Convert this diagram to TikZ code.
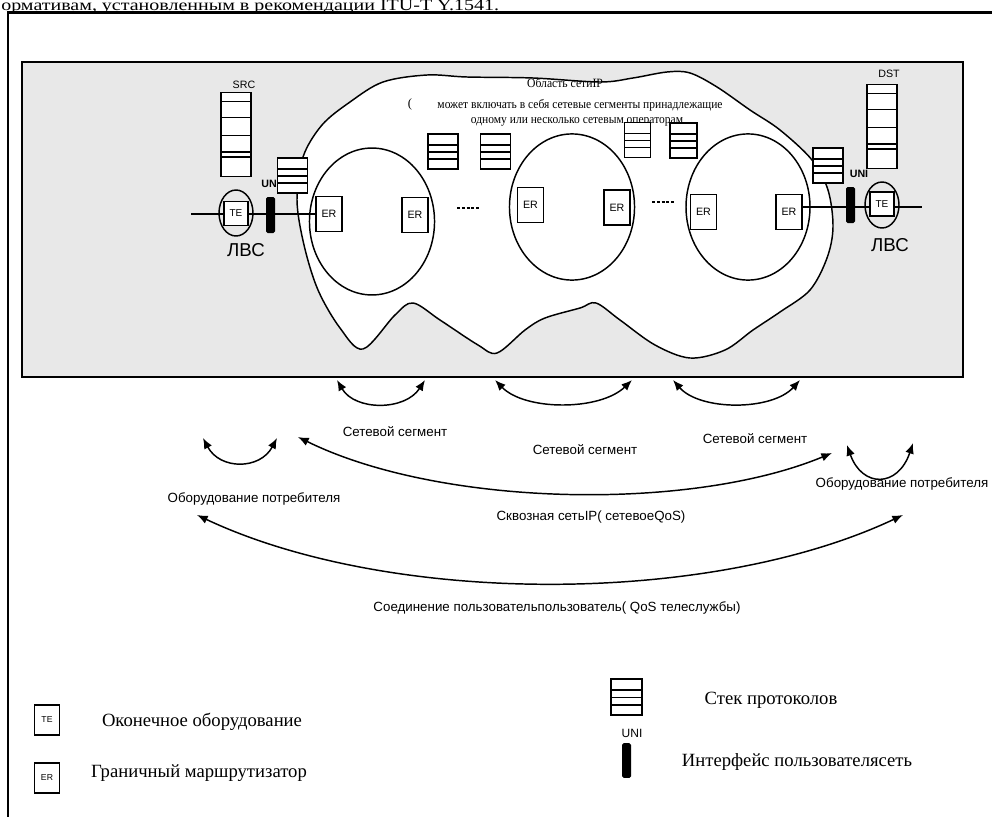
\documentclass[tikz,border=0pt]{standalone}
\usepackage{fontspec}
\setmainfont{Liberation Serif}
\newfontfamily\arial{Liberation Sans}
\usetikzlibrary{arrows.meta,calc,shapes.geometric}
\definecolor{boxgray}{HTML}{E8E8E8}
\tikzset{
  ln/.style={line width=1.1pt},
  stacklines/.style={path picture={\foreach \f in {#1}{\draw[line width=1.1pt] ($(path picture bounding box.south west)!\f!(path picture bounding box.north west)$) -- ($(path picture bounding box.south east)!\f!(path picture bounding box.north east)$);}}},
  stackbox/.style={draw, fill=white, line width=1.1pt, inner sep=0pt, minimum width=22.5pt, minimum height=26.25pt, stacklines={0.28,0.48,0.69}},
  tallstack/.style={draw, fill=white, line width=1.1pt, inner sep=0pt, minimum width=22.5pt, minimum height=63pt, stacklines={0.23,0.29,0.49,0.70,0.89}},
  erbox/.style={draw, fill=white, line width=1.1pt, inner sep=0pt, minimum width=19.5pt, minimum height=26.25pt, font=\arial\fontsize{8}{9}\selectfont},
  tebox/.style={draw, fill=white, line width=1.1pt, inner sep=0pt, minimum width=18pt, minimum height=18pt, font=\arial\fontsize{7.5}{9}\selectfont},
  lanell/.style={draw, ellipse, line width=1.1pt, inner sep=0pt, minimum width=25.5pt, minimum height=34.5pt},
  unibar/.style={fill=black, rounded corners=1.2pt, inner sep=0pt, minimum width=6.75pt, minimum height=27pt},
  dbl/.style={{Latex[length=8pt,width=6.5pt]}-{Latex[length=8pt,width=6.5pt]}, line width=1.1pt},
  sanslbl/.style={font=\arial\fontsize{10}{12}\selectfont, inner sep=0pt},
  seriflbl/.style={font=\fontsize{9.5}{11}\selectfont, inner sep=0pt},
  legtxt/.style={font=\fontsize{14}{16}\selectfont, inner sep=0pt},
  dotsline/.style={line width=1.8pt, dash pattern=on 2.2pt off 1.4pt}
}
\begin{document}
\begin{tikzpicture}[x=0.75pt,y=-0.75pt]
\useasboundingbox (0,0) rectangle (992,817);
\clip (0,0) rectangle (992,817);
% top text and frame
\node[anchor=base west, inner sep=0pt, font=\fontsize{12}{14}\selectfont] (toptext) at (1,11) {\scalebox{1.25}[1]{ормативам, установленным в рекомендации ITU-T Y.1541.}};
\draw[line width=2.2pt] (8,830) -- (8,12.5) -- (1000,12.5);
% gray box
\draw[fill=boxgray, line width=1.8pt] (22,62) rectangle (963,377);
% IP cloud
\draw[fill=white, ln] plot[smooth cycle, tension=0.55] coordinates {
 (303,157) (322,125) (350,102) (383,82) (427,75) (467,77) (533,78) (600,82) (633,78) (667,72) (690,73)
 (717,87) (750,110) (780,130) (812,160) (828,190) (833,227) (827,258) (810,290) (780,312) (753,330)
 (725,350) (690,358) (655,345) (620,320) (596,303) (580,308) (545,318) (525,330) (497,353) (478,345)
 (440,320) (413,303) (395,315) (363,349) (340,328) (318,290) (304,245) (297,200)};
% segment ellipses
\draw[ln] (372,221.5) ellipse [x radius=46.9pt, y radius=55.1pt];
\draw[ln] (572,207) ellipse [x radius=46.9pt, y radius=54.8pt];
\draw[ln] (748,207) ellipse [x radius=46.5pt, y radius=54.8pt];
% cloud text
\node[seriflbl] (ipt1) at (565,83) {\scalebox{0.92}[1]{Область сетиIP}};
\node[seriflbl] (ipt0) at (410,104) {(};
\node[seriflbl] (ipt2) at (580,105) {\scalebox{0.91}[1]{может включать в себя сетевые сегменты принадлежащие}};
\node[seriflbl] (ipt3) at (577,122) {\scalebox{0.91}[1]{одному или несколько сетевым операторам}};
% stacks
\node[tallstack] (src) at (236,134.5) {};
\node[tallstack] (dst) at (882,126.5) {};
\node[inner sep=0pt, font=\arial\fontsize{8}{9}\selectfont] (srcl) at (244,85) {SRC};
\node[inner sep=0pt, font=\arial\fontsize{8}{9}\selectfont] (dstl) at (889,74) {DST};
\node[inner sep=0pt, font=\arial\bfseries\fontsize{8}{9}\selectfont] (unl) at (269,184) {UN};
\node[inner sep=0pt, font=\arial\bfseries\fontsize{8}{9}\selectfont] (unr) at (859,174) {UNI};
\node[stackbox] (stL) at (292.5,175.5) {};
\node[stackbox] (stR) at (828,165.5) {};
\node[stackbox] (stA) at (443,151.5) {};
\node[stackbox] (stB) at (495.5,151.5) {};
\node[stackbox, minimum width=19.5pt] (stC) at (637.5,140) {};
\node[stackbox, minimum width=20pt] (stD) at (683.5,140.5) {};
% ER routers
\node[erbox] (er1) at (329,214) {ER};
\node[erbox] (er2) at (415,215) {ER};
\node[erbox] (er3) at (530.5,205) {ER};
\node[erbox] (er4) at (617,207.5) {ER};
\node[erbox] (er5) at (703.5,212) {ER};
\node[erbox] (er6) at (789,212) {ER};
\coordinate (d1a) at (457,208); \coordinate (d1b) at (479,208);
\coordinate (d2a) at (652,202); \coordinate (d2b) at (674,202);
\draw[dotsline] (d1a) -- (d1b);
\draw[dotsline] (d2a) -- (d2b);
% left LAN
\coordinate (lEnd) at (191,214);
\draw[ln] (lEnd) -- (er1.west);
\node[lanell] (lanL) at (236,213) {};
\node[tebox] (teL) at (236,213.5) {TE};
\node[unibar] (uniL) at (270.5,215) {};
\node[inner sep=0pt, font=\arial\fontsize{14}{16}\selectfont] (lvsL) at (246,250) {ЛВС};
% right LAN
\coordinate (rEnd) at (922,207);
\draw[ln] (er6.east |- rEnd) -- (rEnd);
\node[lanell] (lanR) at (882,205) {};
\node[tebox] (teR) at (882,204) {TE};
\node[unibar] (uniR) at (850.5,205) {};
\node[inner sep=0pt, font=\arial\fontsize{14}{16}\selectfont] (lvsR) at (890,245) {ЛВС};
% segment arrows
\coordinate (a1s) at (337,380); \coordinate (a1e) at (425,380);
\coordinate (a2s) at (495,380); \coordinate (a2e) at (632,380);
\coordinate (a3s) at (673,380); \coordinate (a3e) at (800,380);
\draw[dbl] (a1s) .. controls (355,411) and (405,411) .. (a1e);
\draw[dbl] (a2s) .. controls (525,411) and (600,411) .. (a2e);
\draw[dbl] (a3s) .. controls (700,411) and (772,411) .. (a3e);
% customer arcs
\coordinate (c1s) at (203,438); \coordinate (c1e) at (277,438);
\coordinate (c2s) at (847,445); \coordinate (c2e) at (913,443);
\draw[dbl] (c1s) .. controls (220,470) and (260,470) .. (c1e);
\draw[dbl] (c2s) .. controls (862,488) and (898,488) .. (c2e);
% long arrows
\coordinate (l1s) at (298,437); \coordinate (l1e) at (832,453);
\draw[dbl] (l1s) .. controls (440,507) and (690,512) .. (l1e);
\coordinate (l2s) at (197,515); \coordinate (l2e) at (903,515);
\draw[dbl] (l2s) .. controls (390,606) and (710,606) .. (l2e);
% labels
\node[sanslbl] (seg1) at (395,432) {Сетевой сегмент};
\node[sanslbl] (seg2) at (585,450) {Сетевой сегмент};
\node[sanslbl] (seg3) at (755,439) {Сетевой сегмент};
\node[sanslbl] (cpeL) at (254,499) {Оборудование потребителя};
\node[sanslbl] (cpeR) at (902,484) {Оборудование потребителя};
\node[sanslbl] (e2e) at (591,517) {Сквозная сетьIP( сетевоеQoS)};
\node[sanslbl] (u2u) at (557,608) {Соединение пользовательпользователь( QoS телеслужбы)};
% legend
\node[tebox, minimum width=18.75pt, minimum height=22.5pt, font=\arial\fontsize{6.5}{8}\selectfont] (legTE) at (47,720) {TE};
\node[legtxt] (legTEt) at (202,722) {Оконечное оборудование};
\node[tebox, minimum width=18.75pt, minimum height=22.5pt, font=\arial\fontsize{6.5}{8}\selectfont] (legER) at (47,778) {ER};
\node[legtxt] (legERt) at (199,773) {Граничный маршрутизатор};
\node[stackbox, minimum width=23pt, minimum height=27pt] (legSt) at (626.5,697) {};
\node[legtxt] (legStt) at (771,700) {Стек протоколов};
\node[inner sep=0pt, font=\arial\fontsize{9}{10}\selectfont] (legUNIl) at (632,733) {UNI};
\node[unibar, minimum height=26pt] (legUNI) at (626.5,760.5) {};
\node[legtxt] (legUNIt) at (797,762) {Интерфейс пользователясеть};
\end{tikzpicture}
\end{document}
